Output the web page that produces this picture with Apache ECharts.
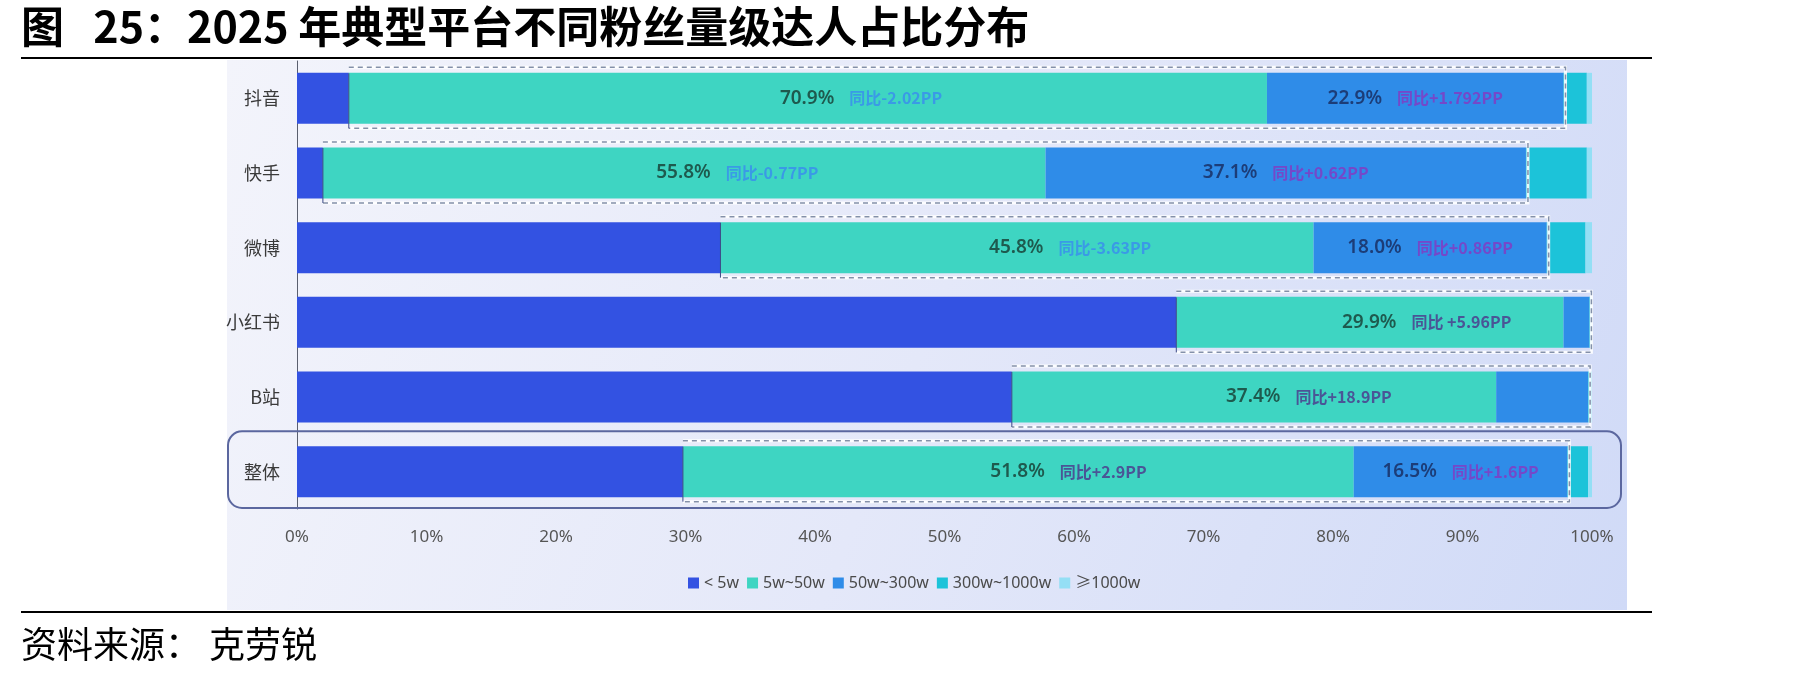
<!DOCTYPE html>
<html>
<head>
<meta charset="utf-8">
<script src="https://cdn.jsdelivr.net/npm/echarts@6/dist/echarts.min.js"></script>
<style>
  html, body { margin: 0; padding: 0; background: #ffffff; }
  #chart { width: 1809px; height: 680px; }
</style>
</head>
<body>
<div id="chart"></div>
<script>
// 平台
const platforms = ['抖音', '快手', '微博', '小红书', 'B站', '整体'];
// 各粉丝量级达人占比（%）
const lt5w = [4.0, 2.0, 32.7, 67.9, 55.2, 29.8];
const w5to50 = [70.9, 55.8, 45.8, 29.9, 37.4, 51.8];
const w50to300 = [22.9, 37.1, 18.0, 2.0, 7.1, 16.5];
const w300to1000 = [1.8, 4.7, 3.0, 0.1, 0.2, 1.6];
const gte1000 = [0.4, 0.4, 0.5, 0.1, 0.1, 0.3];
// 同比变化标注
const yoy5to50 = ['同比-2.02PP', '同比-0.77PP', '同比-3.63PP', '同比 +5.96PP', '同比+18.9PP', '同比+2.9PP'];
const yoy50to300 = ['同比+1.792PP', '同比+0.62PP', '同比+0.86PP', '', '', '同比+1.6PP'];
// 图例 / 刻度
const levelNames = ['< 5w', '5w~50w', '50w~300w', '300w~1000w', '≥1000w'];
const xTicks = ['0%', '10%', '20%', '30%', '40%', '50%', '60%', '70%', '80%', '90%', '100%'];

const titleText = '图   25：2025 年典型平台不同粉丝量级达人占比分布';
const sourceText = '资料来源： 克劳锐';

const colors = ['#3352e2', '#3ed5c2', '#2f8ce8', '#1cc3d9', '#94dff5'];
const cjk = '"Noto Sans CJK SC", "Noto Sans", sans-serif';
const num = '"Noto Sans", "Noto Sans CJK SC", sans-serif';

const chart = echarts.init(document.getElementById('chart'));

const pctRich = {
  v1: { fontFamily: num, fontSize: 19, fontWeight: 600, color: '#1e5a4e' },
  v2: { fontFamily: num, fontSize: 19, fontWeight: 600, color: '#1c3d78' },
  ya: { fontFamily: cjk, fontSize: 16, fontWeight: 'bold', color: '#3a9ae6', padding: [0, 0, 0, 15] },
  yb: { fontFamily: cjk, fontSize: 16, fontWeight: 'bold', color: '#4a5596', padding: [0, 0, 0, 15] },
  yc: { fontFamily: cjk, fontSize: 16, fontWeight: 'bold', color: '#7548c9', padding: [0, 0, 0, 15] }
};

const segData = [lt5w, w5to50, w50to300, w300to1000, gte1000];

const barSeries = levelNames.map((name, k) => {
  const s = {
    name: name,
    type: 'bar',
    stack: 'total',
    barWidth: 51,
    data: segData[k],
    itemStyle: { color: colors[k] },
    emphasis: { disabled: true },
    z: 2
  };
  if (k === 1) {
    s.label = {
      show: true,
      position: ['50%', '50%'],
      align: 'left',
      verticalAlign: 'middle',
      offset: [-28, 0],
      formatter: p => '{v1|' + p.value.toFixed(1) + '%}{' + (p.dataIndex < 3 ? 'ya' : 'yb') + '|' + yoy5to50[p.dataIndex] + '}',
      rich: pctRich
    };
  }
  if (k === 2) {
    s.label = {
      show: true,
      position: 'inside',
      formatter: p => yoy50to300[p.dataIndex] ? '{v2|' + p.value.toFixed(1) + '%}{yc|' + yoy50to300[p.dataIndex] + '}' : '',
      rich: pctRich
    };
  }
  return s;
});

// 虚线框：覆盖 5w~50w 与 50w~300w 两段
const boxData = platforms.map((p, i) => [lt5w[i], lt5w[i] + w5to50[i] + w50to300[i], i]);

const boxSeries = {
  type: 'custom',
  silent: true,
  z: 5,
  encode: { x: [0, 1], y: 2 },
  data: boxData,
  renderItem: (params, api) => {
    const a = api.coord([api.value(0), api.value(2)]);
    const b = api.coord([api.value(1), api.value(2)]);
    const top = a[1] - 31, bot = a[1] + 30;
    const x0 = a[0], x1 = b[0] + 2;
    const pts = [[x0, top], [x1, top], [x1, bot], [x0, bot]];
    return {
      type: 'group',
      children: [
        { type: 'polyline', shape: { points: pts }, style: { fill: null, stroke: 'rgba(255,255,255,0.9)', lineWidth: 3 } },
        { type: 'polyline', shape: { points: pts }, style: { fill: null, stroke: '#8390a9', lineWidth: 1.5, lineDash: [5, 4] } },
        { type: 'line', shape: { x1: x0, y1: a[1] - 25, x2: x0, y2: bot }, style: { stroke: '#3c4a86', lineWidth: 1 } }
      ]
    };
  }
};

// “整体”行的圆角高亮框
const totalIdx = platforms.indexOf('整体');
const highlightSeries = {
  type: 'custom',
  silent: true,
  z: 6,
  encode: { x: 0, y: 1 },
  data: [[0, totalIdx]],
  renderItem: (params, api) => {
    const c = api.coord([0, api.value(1)]);
    const bandH = api.size([0, 1])[1];
    const cs = params.coordSys;
    return {
      type: 'rect',
      shape: { x: cs.x - 69, y: c[1] - bandH / 2 - 3, width: cs.width + 98, height: bandH + 2, r: 14 },
      style: { fill: null, stroke: '#5b679f', lineWidth: 2 }
    };
  }
};

const option = {
  animation: false,
  backgroundColor: '#ffffff',
  graphic: [
    {
      type: 'rect', z: -100, silent: true,
      shape: { x: 227, y: 60, width: 1400, height: 550 },
      style: {
        fill: new echarts.graphic.LinearGradient(0, 0, 1, 1, [
          { offset: 0, color: '#f3f4fb' },
          { offset: 0.5, color: '#e4e8f9' },
          { offset: 1, color: '#d0daf7' }
        ])
      }
    },
    {
      type: 'text', left: 21, top: 5,
      style: { text: titleText, font: 'bold 43px ' + cjk, fill: '#000000' }
    },
    {
      type: 'line', silent: true,
      shape: { x1: 21, y1: 58, x2: 1652, y2: 58 },
      style: { stroke: '#000000', lineWidth: 2 }
    },
    {
      type: 'line', silent: true,
      shape: { x1: 21, y1: 612, x2: 1652, y2: 612 },
      style: { stroke: '#000000', lineWidth: 2 }
    },
    {
      type: 'text', left: 21, top: 626,
      style: { text: sourceText, font: '36px ' + cjk, fill: '#000000' }
    }
  ],
  legend: {
    data: levelNames,
    left: 683,
    top: 570,
    icon: 'rect',
    itemWidth: 11,
    itemHeight: 11,
    itemGap: 8,
    textStyle: { fontFamily: num, fontSize: 16, color: '#4a4a4a' }
  },
  grid: { left: 297, top: 61, width: 1295, height: 448 },
  xAxis: {
    type: 'value',
    min: 0,
    max: 100,
    interval: 10,
    axisLine: { show: false },
    axisTick: { show: false },
    splitLine: { show: false },
    axisLabel: {
      fontFamily: num, fontSize: 17, color: '#555555', margin: 20,
      formatter: v => xTicks[Math.round(v / 10)]
    }
  },
  yAxis: {
    type: 'category',
    inverse: true,
    data: platforms,
    axisLine: { show: true, lineStyle: { color: '#5a5f6e', width: 1 } },
    axisTick: { show: false },
    axisLabel: { fontFamily: cjk, fontSize: 18, color: '#3a3a3a', margin: 17 }
  },
  series: barSeries.concat([boxSeries, highlightSeries])
};

chart.setOption(option);
</script>
</body>
</html>
